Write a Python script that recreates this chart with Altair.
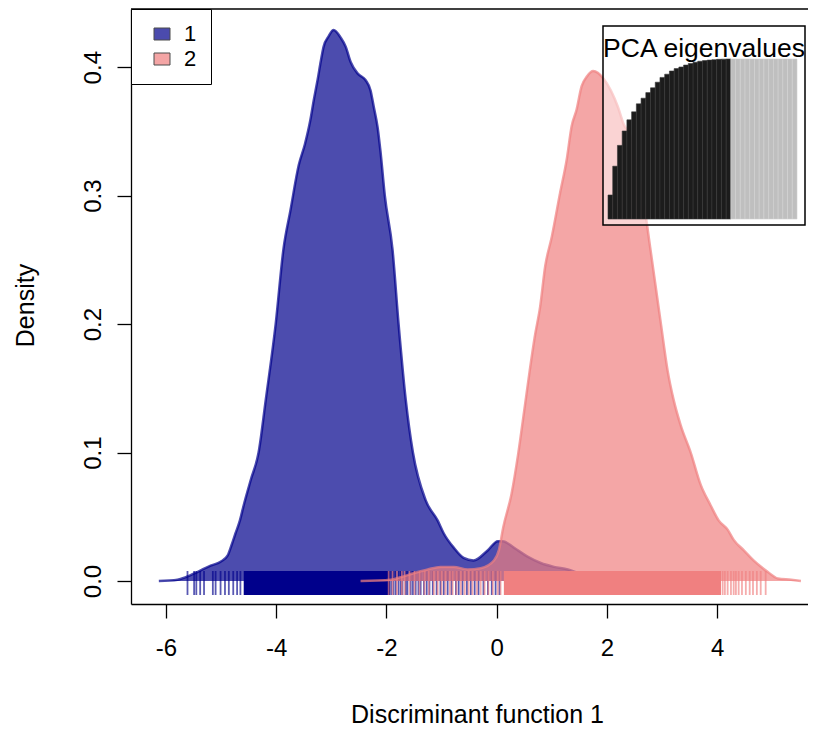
import altair as alt
import pandas as pd

# ---- density curves ----
blue_x = [-6.13, -5.79, -5.64, -5.43, -5.19, -5.01, -4.88, -4.81, -4.74, -4.66, -4.59, -4.46, -4.32,
          -4.19, -4.01, -3.87, -3.74, -3.59, -3.48, -3.38, -3.32, -3.25, -3.19, -3.14, -3.05, -2.96,
          -2.83, -2.74, -2.65, -2.52, -2.38, -2.29, -2.23, -2.16, -2.11, -2.03, -1.89, -1.78, -1.65,
          -1.52, -1.29, -1.07, -0.96, -0.78, -0.60, -0.42, -0.16, 0.02, 0.11, 0.31, 0.56, 0.80, 1.04,
          1.29, 1.62, 1.98, 2.30]
blue_y = [0, 0.001, 0.003, 0.007, 0.012, 0.015, 0.020, 0.028, 0.037, 0.047, 0.059, 0.079, 0.100,
          0.141, 0.200, 0.258, 0.289, 0.324, 0.340, 0.359, 0.374, 0.390, 0.405, 0.416, 0.424, 0.429,
          0.423, 0.416, 0.404, 0.395, 0.390, 0.382, 0.369, 0.353, 0.335, 0.300, 0.258, 0.200, 0.141,
          0.100, 0.063, 0.047, 0.037, 0.026, 0.018, 0.016, 0.024, 0.031, 0.031, 0.026, 0.019, 0.014,
          0.011, 0.009, 0.004, 0.001, 0]
pink_x = [-2.47, -1.92, -1.74, -1.51, -1.25, -1.02, -0.78, -0.53, -0.29, -0.05, 0.04, 0.12, 0.27,
          0.39, 0.51, 0.60, 0.69, 0.79, 0.88, 1.00, 1.15, 1.27, 1.36, 1.45, 1.54, 1.64, 1.75, 1.94,
          2.07, 2.20, 2.30, 2.43, 2.56, 2.65, 2.79, 2.98, 3.10, 3.21, 3.34, 3.52, 3.70, 3.88, 4.03,
          4.19, 4.30, 4.48, 4.66, 4.92, 5.10, 5.34, 5.52]
pink_y = [0, 0.001, 0.003, 0.006, 0.009, 0.011, 0.011, 0.009, 0.010, 0.016, 0.024, 0.042, 0.068,
          0.099, 0.136, 0.164, 0.190, 0.214, 0.245, 0.268, 0.302, 0.328, 0.354, 0.367, 0.385, 0.393,
          0.397, 0.391, 0.382, 0.369, 0.356, 0.346, 0.320, 0.300, 0.258, 0.200, 0.164, 0.141, 0.121,
          0.100, 0.075, 0.059, 0.047, 0.040, 0.032, 0.024, 0.016, 0.007, 0.002, 0.001, 0]

# ---- rug (individual scores); dense stretches given as [start, end] spans ----
blue_rug = [-5.61, -5.49, -5.45, -5.38, -5.31, -5.15, -5.10, -5.01, -4.93, -4.86, -4.78, -4.71, -4.65,
            -1.91, -1.87, -1.83, -1.78, -1.74, -1.71, -1.65, -1.62, -1.56, -1.52, -1.47, -1.42, -1.38,
            -1.32, -1.27, -1.22, -1.16, -1.09, -1.02, -0.96, -0.89, -0.82, -0.74, -0.69, -0.62, -0.54,
            -0.47, -0.40, -0.33, -0.24, -0.16, -0.09, -0.02, 0.05]
blue_dense = [(-4.59, -1.93)]
pink_rug = [-1.96, -1.89, -1.81, -1.72, -1.67, -1.58, -1.49, -1.40, -1.31, -1.23, -1.14, -1.07, -1.00,
            -0.93, -0.85, -0.80, -0.73, -0.65, -0.58, -0.51, -0.44, -0.36, -0.29, -0.22, -0.15, -0.07,
            0.02, 0.07, 4.10, 4.14, 4.19, 4.25, 4.30, 4.34, 4.39, 4.45, 4.52, 4.59, 4.65, 4.72, 4.79, 4.88]
pink_dense = [(0.13, 4.07)]

groups = ["1", "2"]
group_colors = ["#00008B", "#F08080"]

# ---- inset: PCA eigenvalues ----
inset_title = "PCA eigenvalues"
eig = [0.15, 0.33, 0.46, 0.55, 0.62, 0.67, 0.72, 0.755, 0.79, 0.82, 0.855, 0.885, 0.905, 0.925,
       0.94, 0.95, 0.962, 0.972, 0.98, 0.986, 0.99, 0.993, 0.996, 0.998, 0.999, 1.0,
       1.0, 1.0, 1.0, 1.0, 1.0, 1.0, 1.0, 1.0, 1.0, 1.0, 1.0, 1.0, 1.0, 1.0]
n_pca = 26

x_title = "Discriminant function 1"
y_title = "Density"
x_ticks = [-6, -4, -2, 0, 2, 4]
y_ticks = [0.0, 0.1, 0.2, 0.3, 0.4]

W, H = 677, 595
XDOM = [-6.635, 5.648]
YDOM = [-0.0179, 0.4453]
FONT = "Liberation Sans"

xs = alt.Scale(domain=XDOM, nice=False, zero=False)
ys = alt.Scale(domain=YDOM, nice=False, zero=False)
x_axis = alt.Axis(values=x_ticks, title=x_title, labelPadding=18, labelBaseline="top",
                  labelExpr="datum.value < 0 ? '-' + abs(datum.value) : '' + datum.value",
                  titleX=346, titleY=110, titleAlign="center", titleBaseline="middle")
y_axis = alt.Axis(values=y_ticks, format=".1f", title=y_title, labelAngle=270, labelAlign="center",
                  labelBaseline="alphabetic", labelPadding=17, titleAngle=270, titleX=-106,
                  titleY=296, titleAlign="center", titleBaseline="middle")
fill_scale = alt.Scale(domain=groups, range=group_colors)


def group_layers(g, col, dx, dy, rug, dense):
    dens = pd.DataFrame({"x": dx, "d": dy, "group": g})
    area = alt.Chart(dens).mark_area(fillOpacity=0.7, interpolate="monotone").encode(
        x=alt.X("x:Q", scale=xs, axis=x_axis),
        y=alt.Y("d:Q", scale=ys, axis=y_axis),
        fill=alt.Fill("group:N", scale=fill_scale, title=None,
                      legend=alt.Legend(symbolOpacity=0.7)),
    )
    line = alt.Chart(dens).mark_line(color=col, opacity=0.7, strokeWidth=2.5,
                                     interpolate="monotone").encode(
        x=alt.X("x:Q", scale=xs), y=alt.Y("d:Q", scale=ys))
    rdf = pd.DataFrame({"x": rug})
    ticks = alt.Chart(rdf).mark_tick(orient="vertical", color=col, opacity=0.65, size=24,
                                     thickness=1.8, yOffset=2).encode(
        x=alt.X("x:Q", scale=xs), y=alt.datum(0, scale=ys))
    ddf = pd.DataFrame({"a": [s for s, e in dense], "b": [e for s, e in dense]})
    band = alt.Chart(ddf).mark_rule(color=col, strokeWidth=24, strokeCap="butt", yOffset=2).encode(
        x=alt.X("a:Q", scale=xs), x2="b:Q", y=alt.datum(0, scale=ys))
    return [area, line, ticks, band]


top_rule = alt.Chart(pd.DataFrame({"k": [0]})).mark_rule(color="black", strokeWidth=1.3).encode(
    y=alt.value(0))

main = alt.layer(
    *group_layers("1", group_colors[0], blue_x, blue_y, blue_rug, blue_dense),
    *group_layers("2", group_colors[1], pink_x, pink_y, pink_rug, pink_dense),
    top_rule,
)

edf = pd.DataFrame({"k": list(range(len(eig))), "h": eig})
box = alt.Chart(pd.DataFrame({"k": [0]})).mark_rect(
    fill="white", fillOpacity=0.5, stroke="black", strokeWidth=1.5).encode(
    x=alt.value(472), x2=alt.value(674), y=alt.value(17), y2=alt.value(216))
bars = alt.Chart(edf).mark_bar(strokeWidth=0.6).encode(
    x=alt.X("k:O", scale=alt.Scale(range=[477, 666], paddingInner=0, paddingOuter=0), axis=None),
    y=alt.Y("h:Q", scale=alt.Scale(domain=[0, 1], range=[210, 50]), axis=None),
    fill=alt.condition(alt.datum.k < n_pca, alt.value("#1c1c1c"), alt.value("#bfbfbf")),
    stroke=alt.condition(alt.datum.k < n_pca, alt.value("#383838"), alt.value("#d2d2d2")),
)
ttl = alt.Chart(pd.DataFrame({"t": [inset_title]})).mark_text(
    font=FONT, fontSize=26.5, color="black", align="center", baseline="middle").encode(
    text="t:N", x=alt.value(573), y=alt.value(40))
inset = alt.layer(box, bars, ttl)

chart = alt.layer(main, inset).resolve_scale(x="independent", y="independent").properties(
    width=W, height=H,
    padding={"left": 123, "top": 1, "right": 0, "bottom": 123},
    autosize=alt.AutoSizeParams(type="none"),
).configure_view(stroke="transparent").configure_axis(
    grid=False, domainColor="black", domainWidth=1.3, tickColor="black", tickWidth=1.3,
    tickSize=14, labelFont=FONT, labelFontSize=24, labelColor="black",
    titleFont=FONT, titleFontSize=25, titleFontWeight="normal", titleColor="black",
).configure_legend(
    orient="none", legendX=0, legendY=0, strokeColor="black", fillColor="white",
    padding=14, symbolType="M-1,-0.75H1V0.75H-1Z", symbolSize=256, symbolStrokeColor="black",
    symbolStrokeWidth=1, labelFont=FONT, labelFontSize=22, labelColor="black",
    rowPadding=3, labelOffset=11, symbolOffset=6,
)

chart.save("out.html", embed_options={"renderer": "svg", "actions": False})
